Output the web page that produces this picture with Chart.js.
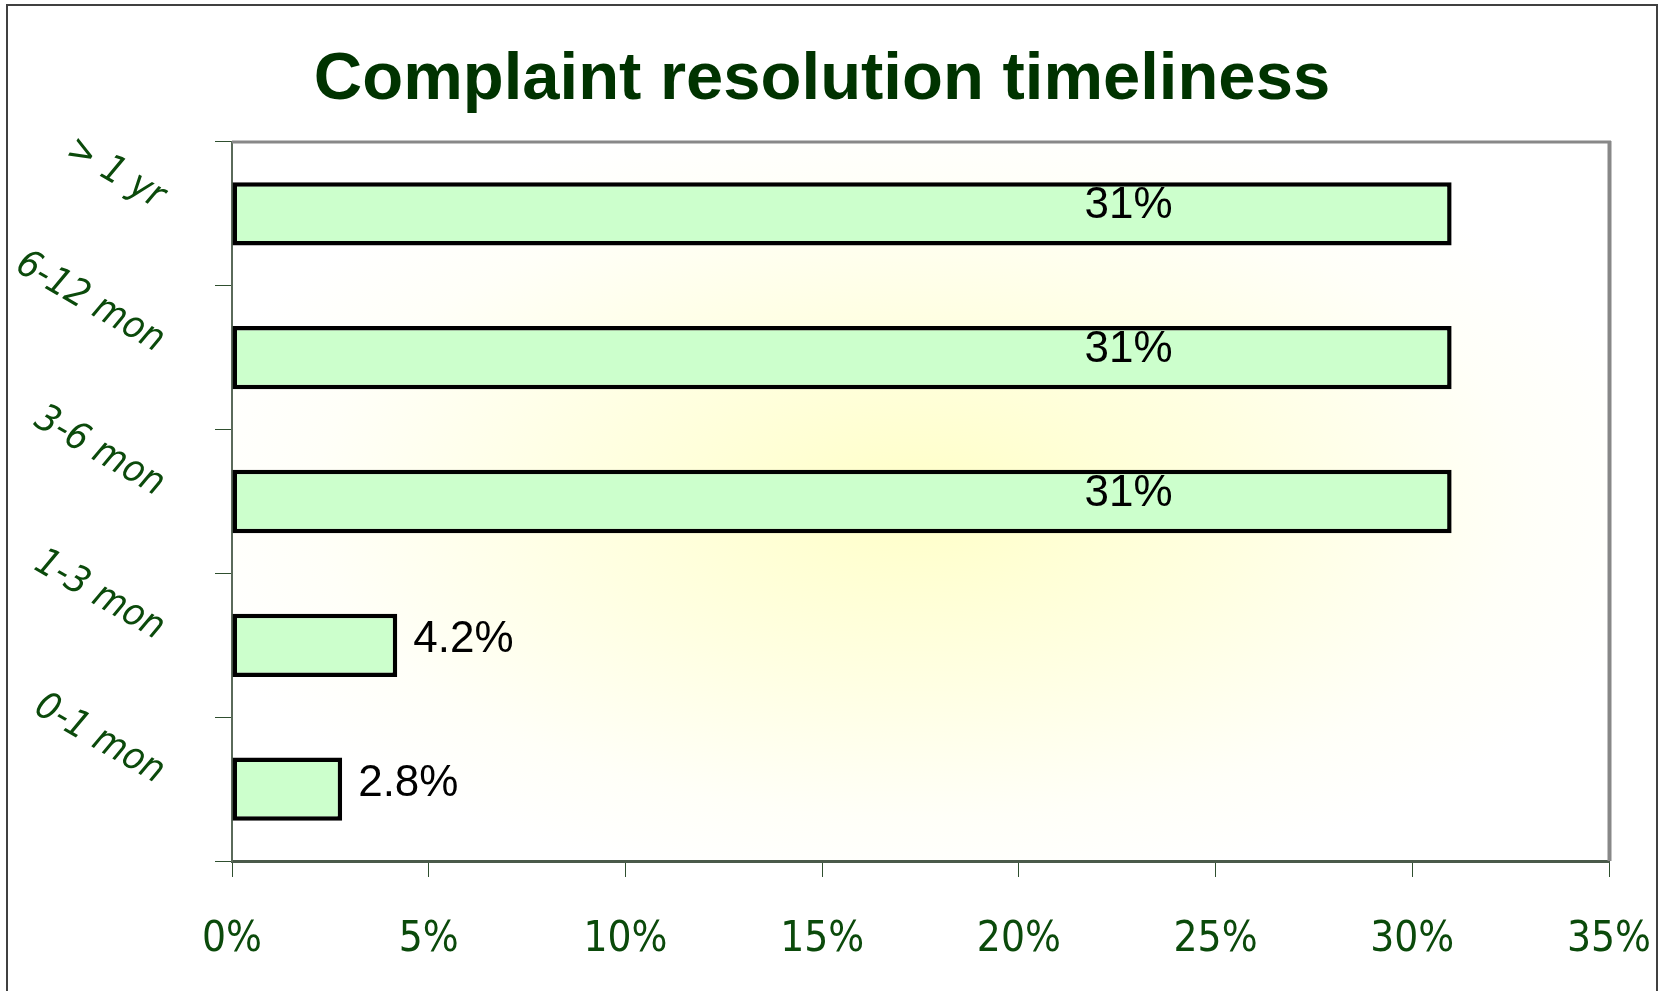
<!DOCTYPE html>
<html>
<head>
<meta charset="utf-8">
<title>Complaint resolution timeliness</title>
<script src="https://cdn.jsdelivr.net/npm/chart.js@4.4.1/dist/chart.umd.min.js"></script>
<style>
  html, body { margin: 0; padding: 0; background: #ffffff; }
  canvas { display: block; }
</style>
</head>
<body>
<canvas id="timelinessChart" width="1660" height="991"></canvas>
<script>
// categories listed bottom to top, as in the original sheet
var categories = ['0-1 mon', '1-3 mon', '3-6 mon', '6-12 mon', '> 1 yr'];
var shares = [2.8, 4.2, 31, 31, 31];
var xTicks = [0, 5, 10, 15, 20, 25, 30, 35];

var narrowFont = "'Liberation Sans Narrow', 'Arial Narrow', 'DejaVu Sans Condensed', sans-serif";
var plainFont = "'Liberation Sans', Arial, sans-serif";

// outer frame + yellow glow behind the bars
var backdrop = {
    id: 'backdrop',
    beforeDraw: function (chart) {
        var ctx = chart.ctx;
        var a = chart.chartArea;
        ctx.save();
        ctx.strokeStyle = '#404040';
        ctx.lineWidth = 2;
        ctx.strokeRect(7, 5, 1650, 1000);

        var cx = (a.left + a.right) / 2;
        var cy = (a.top + a.bottom) / 2;
        var rx = (a.right - a.left) / 2;
        var ry = (a.bottom - a.top) / 2;
        ctx.beginPath();
        ctx.rect(a.left, a.top, a.right - a.left, a.bottom - a.top);
        ctx.clip();
        ctx.translate(cx, cy);
        ctx.scale(1, ry / rx);
        var g = ctx.createRadialGradient(0, 0, 0, 0, 0, rx * 1.1);
        g.addColorStop(0, '#ffffc8');
        g.addColorStop(0.45, '#ffffe2');
        g.addColorStop(0.8, '#fffff8');
        g.addColorStop(1, '#ffffff');
        ctx.fillStyle = g;
        ctx.fillRect(-rx, -rx, rx * 2, rx * 2);
        ctx.restore();
    },
    afterDraw: function (chart) {
        var ctx = chart.ctx;
        var a = chart.chartArea;
        ctx.save();
        ctx.strokeStyle = '#888888';
        ctx.lineWidth = 3;
        ctx.beginPath();
        ctx.moveTo(a.left, a.top);
        ctx.lineTo(a.right + 2, a.top);
        ctx.stroke();
        ctx.lineWidth = 4;
        ctx.beginPath();
        ctx.moveTo(a.right + 0.5, a.top - 1);
        ctx.lineTo(a.right + 0.5, a.bottom);
        ctx.stroke();
        ctx.restore();
    }
};

// value labels: inside long bars, just past the end of short ones
var valueLabels = {
    id: 'valueLabels',
    afterDatasetsDraw: function (chart) {
        var ctx = chart.ctx;
        var meta = chart.getDatasetMeta(0);
        var xScale = chart.scales.x;
        ctx.save();
        ctx.font = '44px ' + plainFont;
        ctx.fillStyle = '#000000';
        ctx.textBaseline = 'middle';
        meta.data.forEach(function (bar, i) {
            var v = shares[i];
            var txt = v + '%';
            if (v > xScale.max / 2) {
                ctx.textAlign = 'center';
                ctx.fillText(txt, bar.base + (bar.x - bar.base) * 0.735, bar.y - 8);
            } else {
                ctx.textAlign = 'left';
                ctx.fillText(txt, bar.x + 16, bar.y - 5);
            }
        });
        ctx.restore();
    }
};

var ctx = document.getElementById('timelinessChart').getContext('2d');
var timelinessChart = new Chart(ctx, {
    type: 'bar',
    data: {
        labels: categories,
        datasets: [{
            data: shares,
            backgroundColor: '#ccffcc',
            borderColor: '#000000',
            borderWidth: 4.5,
            borderSkipped: false,
            barPercentage: 0.44,
            categoryPercentage: 1
        }]
    },
    options: {
        indexAxis: 'y',
        responsive: false,
        animation: false,
        layout: { padding: { top: 0, right: 16, bottom: 0, left: 0 } },
        plugins: {
            legend: { display: false },
            tooltip: { enabled: false },
            title: {
                display: true,
                text: 'Complaint resolution timeliness',
                color: '#003300',
                font: { family: plainFont, size: 67, weight: 'bold', lineHeight: 1 },
                padding: { top: 47, bottom: 28 }
            }
        },
        scales: {
            x: {
                min: xTicks[0],
                max: xTicks[xTicks.length - 1],
                afterFit: function (scale) {
                    scale.height = 130;
                    scale.paddingRight = 51;
                },
                grid: { drawOnChartArea: false, tickLength: 16, color: '#2f4f2f' },
                border: { color: '#4a5a4a', width: 3 },
                ticks: {
                    stepSize: xTicks[1] - xTicks[0],
                    color: '#0b4a0b',
                    padding: 38,
                    font: { family: narrowFont, size: 42 },
                    callback: function (v) { return v + '%'; }
                }
            },
            y: {
                reverse: true,
                afterFit: function (scale) { scale.width = 232; },
                grid: { drawOnChartArea: false, tickLength: 17, color: '#2f4f2f' },
                border: { color: '#5a6a5a', width: 2 },
                ticks: {
                    autoSkip: false,
                    color: '#0b4a0b',
                    padding: 54,
                    labelOffset: -14,
                    minRotation: -30,
                    maxRotation: -30,
                    font: { family: narrowFont, size: 38, style: 'italic' }
                }
            }
        }
    },
    plugins: [backdrop, valueLabels]
});
</script>
</body>
</html>
